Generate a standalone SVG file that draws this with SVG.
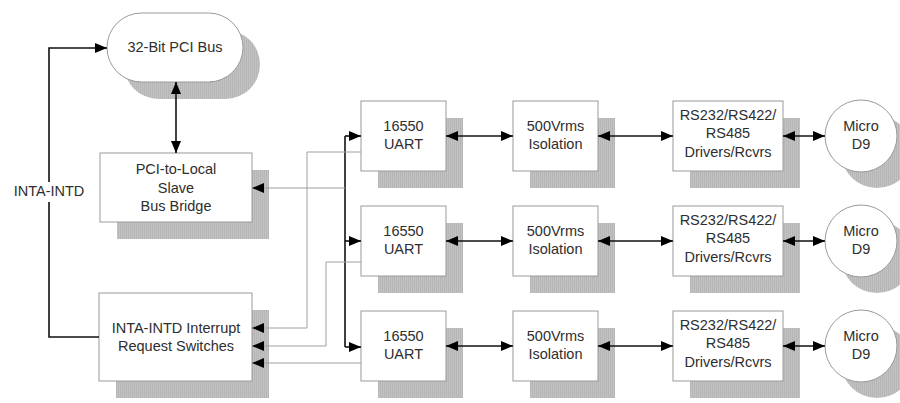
<svg xmlns="http://www.w3.org/2000/svg" width="900" height="403" viewBox="0 0 900 403">
<defs>
<pattern id="hatch" width="2" height="4" patternUnits="userSpaceOnUse">
<rect width="2" height="4" fill="#c2c2c2"/>
<rect width="1" height="4" fill="#b6b6b6"/>
</pattern>
<marker id="ah" viewBox="0 0 12 10" refX="12" refY="5" markerWidth="12" markerHeight="10" markerUnits="userSpaceOnUse" orient="auto-start-reverse">
<path d="M0,0 L12,5 L0,10 z" fill="#000"/>
</marker>
</defs>
<style>
.sh{fill:url(#hatch);stroke:none}
.bx{fill:#fff;stroke:#9a9a9a;stroke-width:1}
.t{font-family:"Liberation Sans",Arial,sans-serif;font-size:14.5px;fill:#2e2e2e;text-anchor:middle}
.blk{fill:none;stroke:#111;stroke-width:1.6}
.gry{fill:none;stroke:#a0a0a0;stroke-width:1}
</style>
<rect width="900" height="403" fill="#fff"/>

<g id="pci-bus">
<rect class="sh" x="124" y="30" width="136" height="69" rx="34.5"/>
<rect class="bx" x="107" y="13" width="136" height="69" rx="34.5"/>
<text class="t" x="175" y="52">32-Bit PCI Bus</text>
</g>

<g id="bridge">
<rect class="sh" x="117" y="170" width="152" height="69"/>
<rect class="bx" x="100" y="153" width="152" height="69"/>
<text class="t" x="176" y="174">PCI-to-Local</text>
<text class="t" x="176" y="192.5">Slave</text>
<text class="t" x="176" y="211">Bus Bridge</text>
</g>

<g id="interrupt">
<rect class="sh" x="116" y="310" width="153" height="88"/>
<rect class="bx" x="99" y="293" width="153" height="88"/>
<text class="t" x="176" y="332.5">INTA-INTD Interrupt</text>
<text class="t" x="176" y="350.5">Request Switches</text>
</g>

<g id="uart1">
<rect class="sh" x="378" y="118" width="85" height="70"/>
<rect class="bx" x="361" y="101" width="85" height="70"/>
<text class="t" x="403.5" y="130.5">16550</text>
<text class="t" x="403.5" y="149">UART</text>
</g>
<g id="iso1">
<rect class="sh" x="530" y="118" width="85" height="70"/>
<rect class="bx" x="513" y="101" width="85" height="70"/>
<text class="t" x="555.5" y="130.5">500Vrms</text>
<text class="t" x="555.5" y="149">Isolation</text>
</g>
<g id="drv1">
<rect class="sh" x="690" y="118" width="110" height="70"/>
<rect class="bx" x="673" y="101" width="110" height="70"/>
<text class="t" x="728" y="119.5">RS232/RS422/</text>
<text class="t" x="728" y="138">RS485</text>
<text class="t" x="728" y="156.5">Drivers/Rcvrs</text>
</g>
<g id="d9-1">
<circle class="sh" cx="877" cy="152" r="36"/>
<circle class="bx" cx="861" cy="136" r="36"/>
<text class="t" x="861" y="130.5">Micro</text>
<text class="t" x="861" y="149">D9</text>
</g>

<g id="uart2">
<rect class="sh" x="378" y="223" width="85" height="70"/>
<rect class="bx" x="361" y="206" width="85" height="70"/>
<text class="t" x="403.5" y="235.5">16550</text>
<text class="t" x="403.5" y="254">UART</text>
</g>
<g id="iso2">
<rect class="sh" x="530" y="223" width="85" height="70"/>
<rect class="bx" x="513" y="206" width="85" height="70"/>
<text class="t" x="555.5" y="235.5">500Vrms</text>
<text class="t" x="555.5" y="254">Isolation</text>
</g>
<g id="drv2">
<rect class="sh" x="690" y="223" width="110" height="70"/>
<rect class="bx" x="673" y="206" width="110" height="70"/>
<text class="t" x="728" y="224.5">RS232/RS422/</text>
<text class="t" x="728" y="243">RS485</text>
<text class="t" x="728" y="261.5">Drivers/Rcvrs</text>
</g>
<g id="d9-2">
<circle class="sh" cx="877" cy="257" r="36"/>
<circle class="bx" cx="861" cy="241" r="36"/>
<text class="t" x="861" y="235.5">Micro</text>
<text class="t" x="861" y="254">D9</text>
</g>

<g id="uart3">
<rect class="sh" x="378" y="328" width="85" height="70"/>
<rect class="bx" x="361" y="311" width="85" height="70"/>
<text class="t" x="403.5" y="340.5">16550</text>
<text class="t" x="403.5" y="359">UART</text>
</g>
<g id="iso3">
<rect class="sh" x="530" y="328" width="85" height="70"/>
<rect class="bx" x="513" y="311" width="85" height="70"/>
<text class="t" x="555.5" y="340.5">500Vrms</text>
<text class="t" x="555.5" y="359">Isolation</text>
</g>
<g id="drv3">
<rect class="sh" x="690" y="328" width="110" height="70"/>
<rect class="bx" x="673" y="311" width="110" height="70"/>
<text class="t" x="728" y="329.5">RS232/RS422/</text>
<text class="t" x="728" y="348">RS485</text>
<text class="t" x="728" y="366.5">Drivers/Rcvrs</text>
</g>
<g id="d9-3">
<circle class="sh" cx="877" cy="362" r="36"/>
<circle class="bx" cx="861" cy="346" r="36"/>
<text class="t" x="861" y="340.5">Micro</text>
<text class="t" x="861" y="359">D9</text>
</g>

<g id="connectors">
<path class="blk" d="M99,337 H49 V48 H107" marker-end="url(#ah)"/>
<path class="blk" d="M176,82 V153" marker-start="url(#ah)" marker-end="url(#ah)"/>
<path class="blk" d="M345,136 V347"/>
<path class="blk" d="M345,136 H361" marker-end="url(#ah)"/>
<path class="blk" d="M345,241 H361" marker-end="url(#ah)"/>
<path class="blk" d="M345,347 H361" marker-end="url(#ah)"/>
<path class="gry" d="M345,188 H252" marker-end="url(#ah)"/>
<path class="gry" d="M361,152 H307 V328 H252" marker-end="url(#ah)"/>
<path class="gry" d="M361,262 H326 V346 H252" marker-end="url(#ah)"/>
<path class="gry" d="M361,363 H252" marker-end="url(#ah)"/>
<path class="blk" d="M446,136 H513" marker-start="url(#ah)" marker-end="url(#ah)"/>
<path class="blk" d="M598,136 H673" marker-start="url(#ah)" marker-end="url(#ah)"/>
<path class="blk" d="M783,136 H825" marker-start="url(#ah)" marker-end="url(#ah)"/>
<path class="blk" d="M446,241 H513" marker-start="url(#ah)" marker-end="url(#ah)"/>
<path class="blk" d="M598,241 H673" marker-start="url(#ah)" marker-end="url(#ah)"/>
<path class="blk" d="M783,241 H825" marker-start="url(#ah)" marker-end="url(#ah)"/>
<path class="blk" d="M446,346 H513" marker-start="url(#ah)" marker-end="url(#ah)"/>
<path class="blk" d="M598,346 H673" marker-start="url(#ah)" marker-end="url(#ah)"/>
<path class="blk" d="M783,346 H825" marker-start="url(#ah)" marker-end="url(#ah)"/>
<rect x="12" y="182" width="75" height="20" fill="#fff"/>
<text class="t" x="49" y="196">INTA-INTD</text>
</g>
</svg>
